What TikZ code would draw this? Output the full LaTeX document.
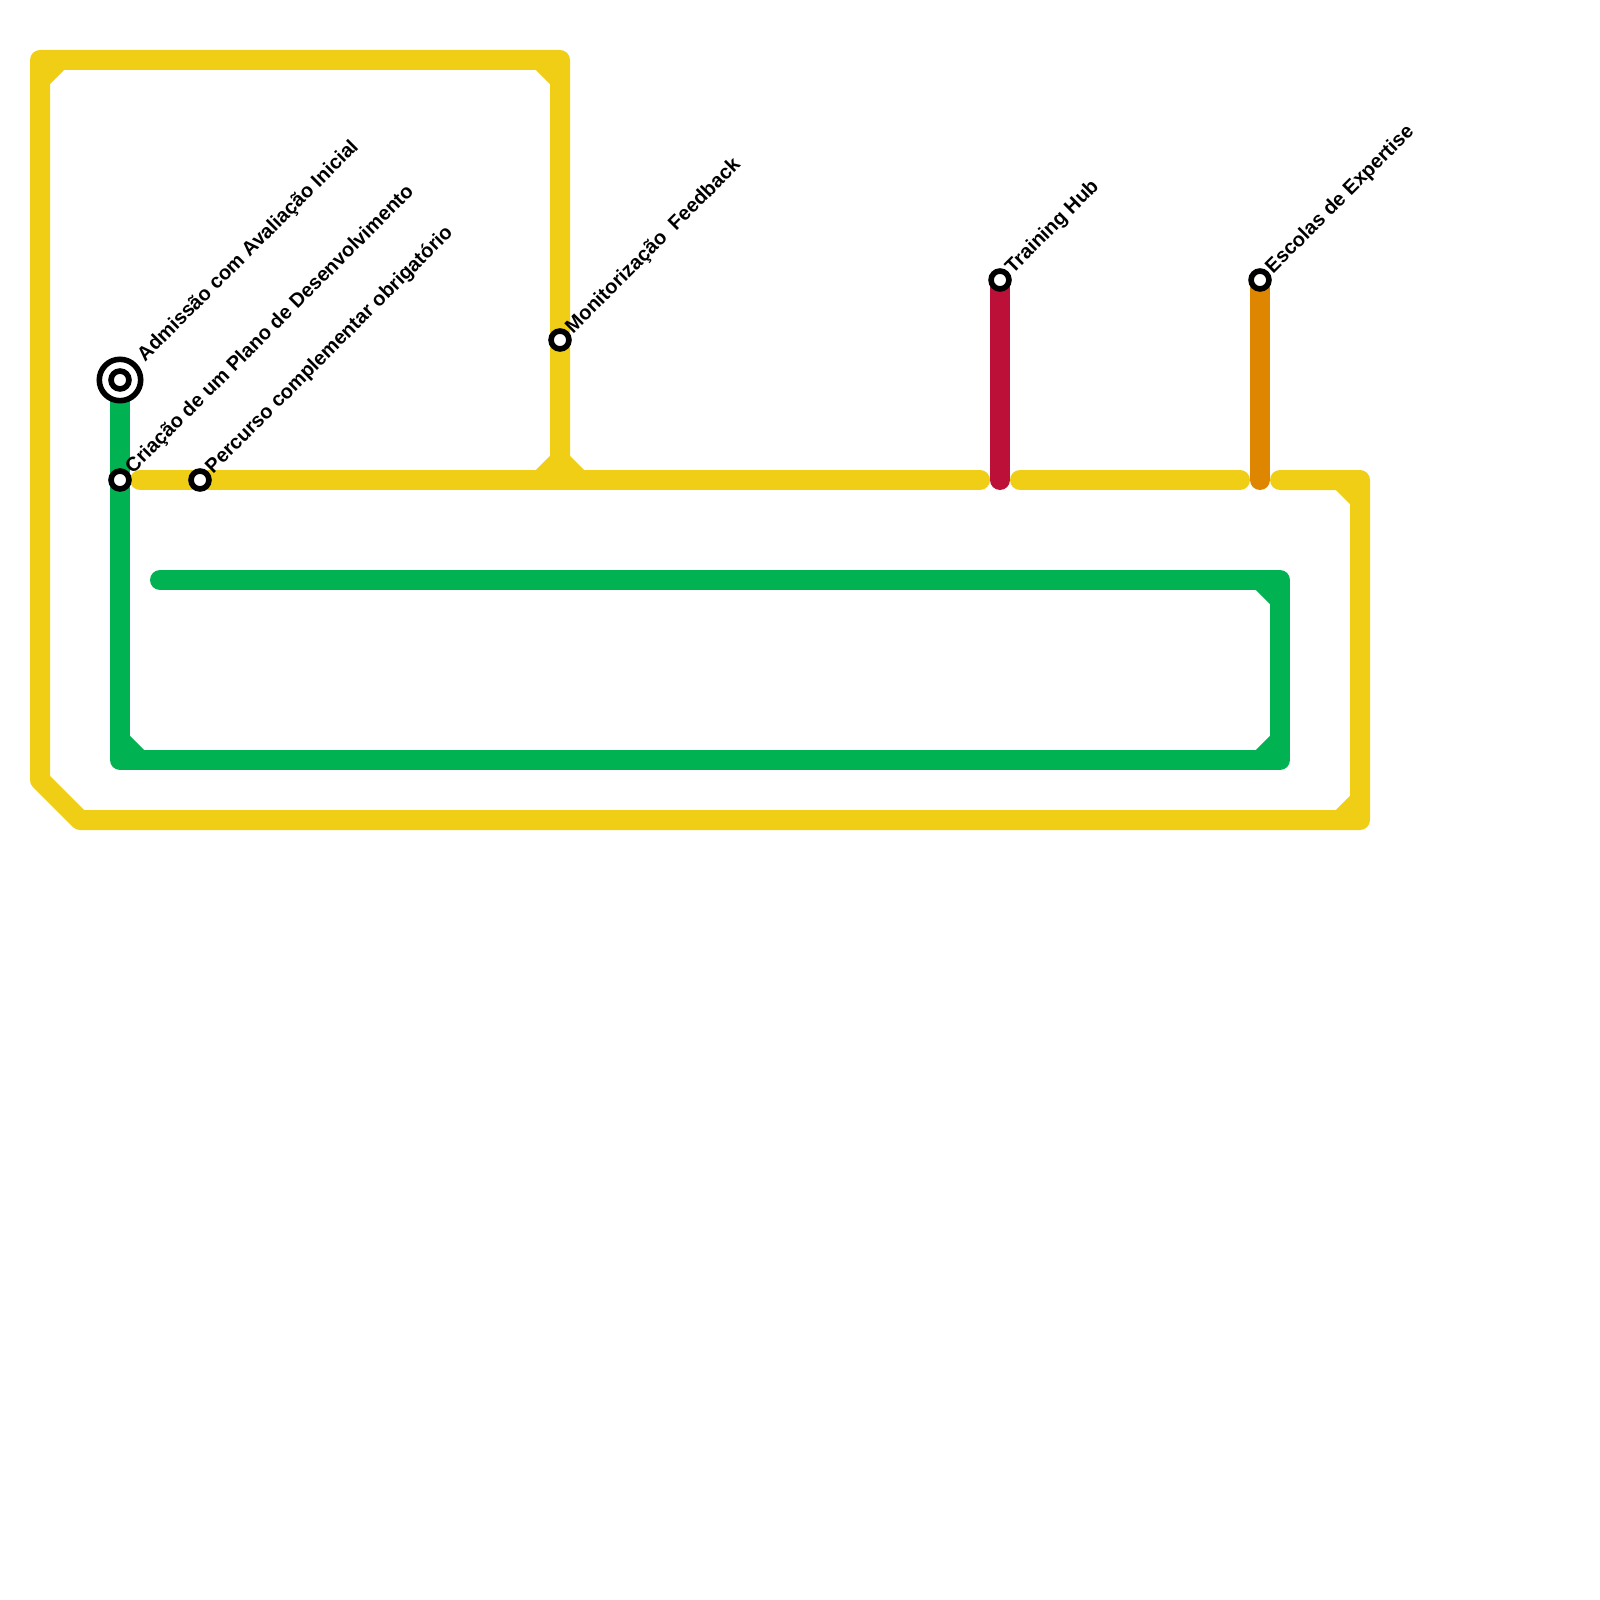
\documentclass[tikz,border=0pt]{standalone}
\usepackage{fontspec}
\setmainfont{Liberation Sans}
\tikzset{
    metro/.style = {line width=5.7pt, line cap=round, line join=round},
    yellowline/.style = {metro, draw=lineyellow},
    greenline/.style = {metro, draw=linegreen},
    stationdot/.style = {circle, draw=black, fill=white, line width=1.6pt, minimum size=5.1pt, inner sep=0pt},
    stationring/.style = {circle, draw=black, fill=white, line width=1.6pt, minimum size=11.8pt, inner sep=0pt},
    stationlabel/.style = {anchor=west, rotate=45, font=\bfseries\fontsize{5.7pt}{6.5pt}\selectfont, inner sep=0pt}
}
\definecolor{lineyellow}{HTML}{F0CE15}
\definecolor{linegreen}{HTML}{00B251}
\definecolor{linered}{HTML}{BD1038}
\definecolor{lineorange}{HTML}{DF8600}
\begin{document}
\begin{tikzpicture}[x = 0.285pt, y = -0.285pt]
        \useasboundingbox (0,0) rectangle (1600,1600);
        % Vertici delle linee
        \coordinate (YellowA) at (140,480);
        \coordinate (YellowB) at (980,480);
        \coordinate (YellowC) at (1020,480);
        \coordinate (YellowD) at (1240,480);
        \coordinate (YellowE) at (1280,480);
        \coordinate (YellowF) at (1360,480);
        \coordinate (YellowG) at (1360,820);
        \coordinate (YellowH) at (80,820);
        \coordinate (YellowI) at (40,780);
        \coordinate (YellowJ) at (40,60);
        \coordinate (YellowK) at (560,60);
        \coordinate (YellowL) at (560,480);
        \coordinate (GreenA) at (120,760);
        \coordinate (GreenB) at (1280,760);
        \coordinate (GreenC) at (1280,580);
        \coordinate (GreenD) at (160,580);
        \coordinate (RedEnd) at (1000,480);
        \coordinate (OrangeEnd) at (1260,480);
        % Linea gialla
        \draw[yellowline] (YellowA) -- (YellowB);
        \draw[yellowline] (YellowC) -- (YellowD);
        \draw[yellowline] (YellowE) -- (YellowF) -- (YellowG) -- (YellowH) -- (YellowI) -- (YellowJ) -- (YellowK) -- (YellowL);
        % Smussi della linea gialla
        \draw[yellowline] (40,80) -- (60,60);
        \draw[yellowline] (540,60) -- (560,80);
        \draw[yellowline] (540,480) -- (560,460) -- (580,480);
        \draw[yellowline] (1340,480) -- (1360,500);
        \draw[yellowline] (1340,820) -- (1360,800);
        % Linea verde
        \coordinate (GreenStart) at (120,380);
        \draw[greenline] (GreenStart) -- (GreenA) -- (GreenB) -- (GreenC) -- (GreenD);
        % Smussi della linea verde
        \draw[greenline] (120,740) -- (140,760);
        \draw[greenline] (1260,580) -- (1280,600);
        \draw[greenline] (1260,760) -- (1280,740);
        % Linee corte
        \coordinate (RedStart) at (1000,280);
        \coordinate (OrangeStart) at (1260,280);
        \draw[metro, draw=linered] (RedStart) -- (RedEnd);
        \draw[metro, draw=lineorange] (OrangeStart) -- (OrangeEnd);
        % Stazioni
        \node[stationring] (Admissao) at (GreenStart){};
        \node[stationdot] (AdmissaoCore) at (GreenStart){};
        \node[stationdot] (Criacao) at (120,480){};
        \node[stationdot] (Percurso) at (200,480){};
        \node[stationdot] (Monitorizacao) at (560,340){};
        \node[stationdot] (Training) at (RedStart){};
        \node[stationdot] (Escolas) at (OrangeStart){};
        % Etichette
        \node[stationlabel] (AdmissaoText) at (141,359){Admissão com Avaliação Inicial};
        \node[stationlabel] (CriacaoText) at (129,471){Criação de um Plano de Desenvolvimento};
        \node[stationlabel] (PercursoText) at (209,471){Percurso complementar obrigatório};
        \node[stationlabel] (MonitorizacaoText) at (569,331){Monitorização\ \ Feedback};
        \node[stationlabel] (TrainingText) at (1009,271){Training Hub};
        \node[stationlabel] (EscolasText) at (1269,271){Escolas de Expertise};
    \end{tikzpicture}
\end{document}
